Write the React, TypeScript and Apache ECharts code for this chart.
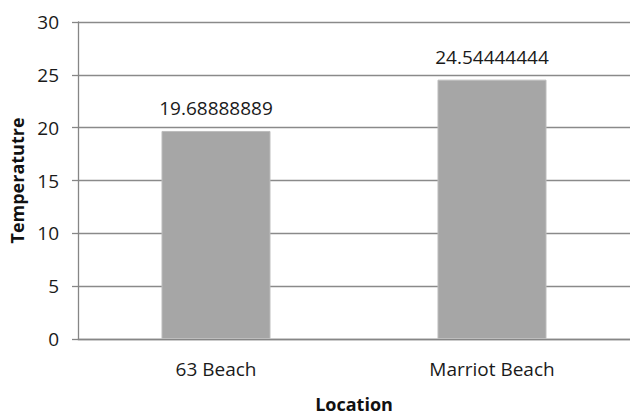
import React, { useEffect, useRef } from "react";
import * as echarts from "echarts";

const categories = ["63 Beach", "Marriot Beach"];
const temperatures = [19.68888889, 24.54444444];
const yTicks = { min: 0, max: 30, interval: 5 };

export default function App() {
  const ref = useRef<HTMLDivElement>(null);
  useEffect(() => {
    const chart = echarts.init(ref.current!, null, { renderer: "svg" });
    const font = "'Open Sans', sans-serif";
    chart.setOption({
      animation: false,
      backgroundColor: "#ffffff",
      grid: { left: 78, top: 22, height: 321, width: 559, containLabel: false },
      xAxis: {
        type: "category",
        data: categories,
        name: "Location",
        nameLocation: "middle",
        nameGap: 56,
        nameTextStyle: { fontFamily: font, fontSize: 18, fontWeight: "bold", color: "#111" },
        axisLine: { show: true, lineStyle: { color: "#868686", width: 1.3 } },
        axisTick: { show: false },
        axisLabel: { fontFamily: font, fontSize: 19, color: "#1a1a1a", margin: 20 },
        splitLine: { show: false },
      },
      yAxis: {
        type: "value",
        min: yTicks.min,
        max: yTicks.max,
        interval: yTicks.interval,
        name: "Temperatutre",
        nameLocation: "middle",
        nameRotate: 90,
        nameGap: 52,
        nameTextStyle: { fontFamily: font, fontSize: 18, fontWeight: "bold", color: "#111" },
        axisLine: { show: true, lineStyle: { color: "#868686", width: 1.3 } },
        axisTick: { show: true, length: 6, lineStyle: { color: "#868686", width: 1.3 } },
        axisLabel: { fontFamily: font, fontSize: 19, color: "#1a1a1a", margin: 19 },
        splitLine: { show: true, lineStyle: { color: "#8a8a8a", width: 1.3 } },
      },
      series: [
        {
          type: "bar",
          data: temperatures,
          barWidth: "39.5%",
          itemStyle: { color: "#a6a6a6", borderColor: "#bdbdbd", borderWidth: 1 },
          label: {
            show: true,
            position: "top",
            distance: 13,
            fontFamily: font,
            fontSize: 19,
            color: "#1a1a1a",
            formatter: (p: any) => String(p.value),
          },
        },
      ],
    });
    return () => chart.dispose();
  }, []);
  return <div ref={ref} style={{ width: 630, height: 418, position: "absolute", left: 0, top: 0 }} />;
}
